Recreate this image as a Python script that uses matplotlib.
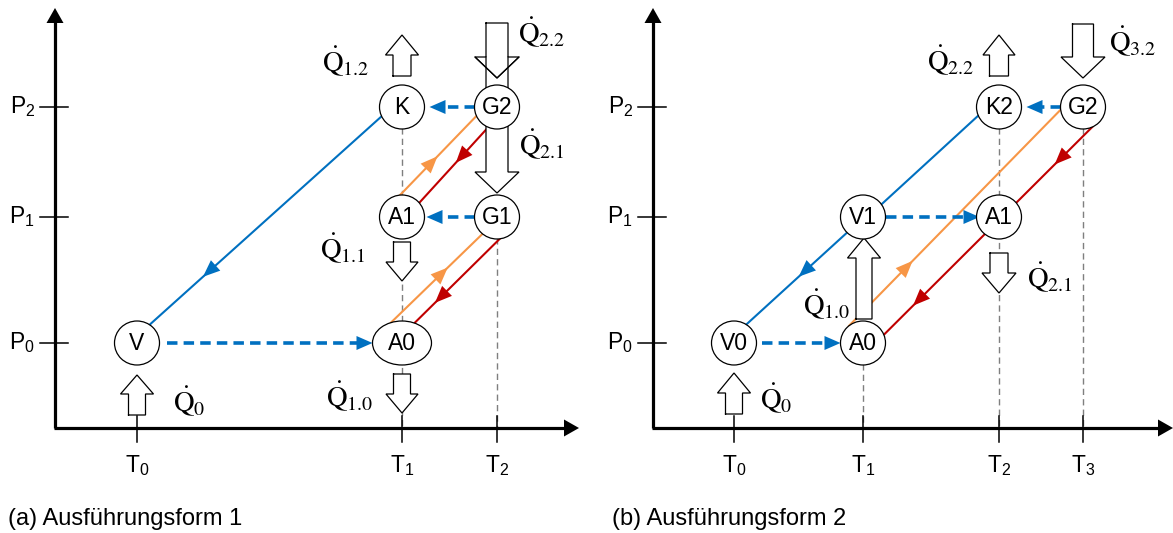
import numpy as np
import matplotlib.pyplot as plt
from matplotlib.patches import Ellipse, Polygon

plt.rcParams['font.family'] = ['Liberation Sans', 'DejaVu Sans']
plt.rcParams['mathtext.fontset'] = 'stix'

BLUE = '#0070C0'
ORANGE = '#F79646'
RED = '#C00000'
GRAY = '#7F7F7F'

# levels of both sketches (pixel layout)
p_names = ['P_0', 'P_1', 'P_2']
p_y = [343, 217, 107]
x_axis_y = 428
R = 22.5

# ---- (a) Ausführungsform 1 ----
a_origin, a_x_end = 55, 579
a_t_names = ['T_0', 'T_1', 'T_2']
a_t_x = [137, 402, 497]
a_nodes = [('V', 0, 0), ('A0', 1, 0), ('A1', 1, 1), ('K', 1, 2), ('G1', 2, 1), ('G2', 2, 2)]
a_wide = {'A0': 29.5}
# solid lines: from, angle, to, angle, colour, arrow positions
a_lines = [('K', 205, 'V', 56, BLUE, [0.77]),
           ('A1', 95, 'G2', 204, ORANGE, [0.49]),
           ('G2', 247, 'A1', 40, RED, [0.47]),
           ('A0', 112, 'G1', 230, ORANGE, [0.62]),
           ('G1', 277, 'A0', 65, RED, [0.76])]
# dashed blue arrows: from, to, gap at start, gap at end
a_dashed = [('V', 'A0', 7, 0), ('G2', 'K', 0, 5), ('G1', 'A1', 0, 2)]
# gray guides: node -> axis
a_guides = ['K', 'G1']
# heat flows: x, tail, tip, shaft w, head w, head len, label, label x, label y
a_heat = [(402, 76, 35, 18, 33, 20, r'$\dot{\mathrm{Q}}_{1.2}$', 322, 61),
          (497, 23, 78, 22, 44, 21, r'$\dot{\mathrm{Q}}_{2.2}$', 518, 32),
          (497, 57, 193, 22, 44, 21, r'$\dot{\mathrm{Q}}_{2.1}$', 519, 144),
          (402, 242, 281, 17, 32, 19, r'$\dot{\mathrm{Q}}_{1.1}$', 320, 248),
          (402, 374, 413, 17, 32, 19, r'$\dot{\mathrm{Q}}_{1.0}$', 326, 396),
          (137, 415, 375, 17, 33, 19, r'$\dot{\mathrm{Q}}_{0}$', 173, 401)]

# ---- (b) Ausführungsform 2 ----
b_origin, b_x_end = 653, 1173
b_t_names = ['T_0', 'T_1', 'T_2', 'T_3']
b_t_x = [734, 863, 999, 1083]
b_nodes = [('V0', 0, 0), ('A0', 1, 0), ('V1', 1, 1), ('A1', 2, 1), ('K2', 2, 2), ('G2', 3, 2)]
b_wide = {}
b_lines = [('K2', 203, 'V1', 35, BLUE, []),
           ('V1', 225, 'V0', 57, BLUE, [0.48]),
           ('A0', 128, 'G2', 187, ORANGE, [0.30]),
           ('G2', 294, 'A0', 22, RED, [0.18, 0.86])]
b_dashed = [('V0', 'A0', 5, 0), ('V1', 'A1', 0, -3), ('G2', 'K2', 0, 5)]
b_guides = ['A0', 'K2', 'G2']
b_heat = [(999, 76, 35, 19, 32, 20, r'$\dot{\mathrm{Q}}_{2.2}$', 927, 60),
          (1083, 24, 78, 21, 44, 21, r'$\dot{\mathrm{Q}}_{3.2}$', 1109, 41),
          (999, 253, 293, 18, 34, 20, r'$\dot{\mathrm{Q}}_{2.1}$', 1027, 277),
          (864, 319, 238, 16, 33, 20, r'$\dot{\mathrm{Q}}_{1.0}$', 803, 304),
          (734, 414, 373, 17, 33, 20, r'$\dot{\mathrm{Q}}_{0}$', 760, 398)]

captions = [('(a) Ausführungsform 1', 8), ('(b) Ausführungsform 2', 612)]


def head(ax, tip, d, color, L=15, W=12, z=4):
    d = np.asarray(d, float) / np.hypot(*d)
    n = np.array([-d[1], d[0]])
    tip = np.asarray(tip, float)
    base = tip - L * d
    ax.add_patch(Polygon([tip, base + W / 2 * n, base - W / 2 * n], closed=True,
                         facecolor=color, edgecolor='none', zorder=z))


def block_arrow(ax, x, tail, tip, sw, hw, hl, open_tail=False):
    s = 1 if tip > tail else -1
    hb = tip - s * hl
    pts = [(x - sw / 2, tail), (x - sw / 2, hb), (x - hw / 2, hb), (x, tip),
           (x + hw / 2, hb), (x + sw / 2, hb), (x + sw / 2, tail)]
    ax.add_patch(Polygon(pts, closed=True, facecolor='white', edgecolor='none', zorder=3))
    xs, ys = zip(*(pts if open_tail else pts + [pts[0]]))
    ax.plot(xs, ys, color='black', lw=0.9, zorder=3.5, solid_joinstyle='miter')


def draw_panel(ax, origin, x_end, t_names, t_x, nodes, wide, lines, dashed, guides, heat):
    pos = {n: (t_x[ti], p_y[pi]) for n, ti, pi in nodes}

    def on_circle(n, ang):
        c = pos[n]
        a = np.radians(ang)
        return np.array([c[0] + wide.get(n, R) * np.cos(a), c[1] - 22 * np.sin(a)])

    # axes
    ax.plot([origin, origin], [x_axis_y, 22], color='black', lw=2.3, zorder=2,
            solid_capstyle='butt')
    head(ax, (origin, 8), (0, -1), 'black', L=15, W=17)
    ax.plot([origin - 1, x_end - 13], [x_axis_y, x_axis_y], color='black', lw=2.3,
            zorder=2, solid_capstyle='butt')
    head(ax, (x_end, x_axis_y), (1, 0), 'black', L=15, W=17)
    for name, y in zip(p_names, p_y):
        ax.plot([origin - 15, origin + 13], [y, y], color='black', lw=1.1, zorder=2)
        ax.text(origin - 20, y, r'$\mathregular{%s}$' % name, ha='right', va='center',
                fontsize=16.5)
    for name, x in zip(t_names, t_x):
        ax.plot([x, x], [416, 442], color='black', lw=1.1, zorder=2)
        ax.text(x, 466, r'$\mathregular{%s}$' % name, ha='center', va='center',
                fontsize=16.5)

    # gray guides
    for n in guides:
        x, y = pos[n]
        ax.plot([x, x], [y, x_axis_y], color=GRAY, lw=1.0, dashes=(4.5, 3),
                zorder=1)

    # solid process lines
    for n1, a1, n2, a2, col, fr in lines:
        s = on_circle(n1, a1)
        e = on_circle(n2, a2)
        ax.plot([s[0], e[0]], [s[1], e[1]], color=col, lw=1.5, zorder=2)
        for f in fr:
            head(ax, s + f * (e - s), e - s, col, L=17, W=14)

    # dashed transfers
    for n1, n2, g1, g2 in dashed:
        c1, c2 = np.array(pos[n1], float), np.array(pos[n2], float)
        d = np.sign(c2[0] - c1[0])
        s = c1[0] + d * (wide.get(n1, R) + g1)
        e = c2[0] - d * (wide.get(n2, R) + g2)
        ax.plot([s, e - d * 14], [c1[1], c1[1]], color=BLUE, lw=2.6,
                dashes=(2.9, 1.7), zorder=2, solid_capstyle='butt')
        head(ax, (e, c1[1]), (d, 0), BLUE, L=16, W=14)

    # heat flows
    for x, tail, tip, sw, hw, hl, lab, lx, ly in heat:
        block_arrow(ax, x, tail, tip, sw, hw, hl)
        ax.text(lx, ly, lab, ha='left', va='center', fontsize=20.5)

    # nodes
    for n, ti, pi in nodes:
        x, y = pos[n]
        ax.add_patch(Ellipse((x, y), 2 * wide.get(n, R), 2 * 22, facecolor='white',
                             edgecolor='black', lw=0.9, zorder=5))
        ax.text(x, y + 1, n, ha='center', va='center', fontsize=16.5, zorder=6)


fig = plt.figure(figsize=(11.73, 5.33), dpi=100)
ax = fig.add_axes([0, 0, 1, 1])
ax.set_xlim(0, 1173)
ax.set_ylim(533, 0)
ax.axis('off')

# panel (a): the lower heat arrow at G shares its shaft with the upper one
draw_panel(ax, a_origin, a_x_end, a_t_names, a_t_x, a_nodes, a_wide, a_lines, a_dashed,
           a_guides, [h for i, h in enumerate(a_heat) if i != 2])
x, tail, tip, sw, hw, hl, lab, lx, ly = a_heat[2]
block_arrow(ax, x, tail, tip, sw, hw, hl, open_tail=True)
ax.text(lx, ly, lab, ha='left', va='center', fontsize=20.5)
x, tail, tip, sw, hw, hl, lab, lx, ly = a_heat[1]
ax.plot([x - hw / 2, x, x + hw / 2], [tip - hl, tip, tip - hl], color='black', lw=0.9,
        zorder=3.6)

draw_panel(ax, b_origin, b_x_end, b_t_names, b_t_x, b_nodes, b_wide, b_lines, b_dashed,
           b_guides, b_heat)

for txt, x in captions:
    ax.text(x, 519, txt, ha='left', va='center', fontsize=17)

fig.savefig('out.png', dpi=100)
